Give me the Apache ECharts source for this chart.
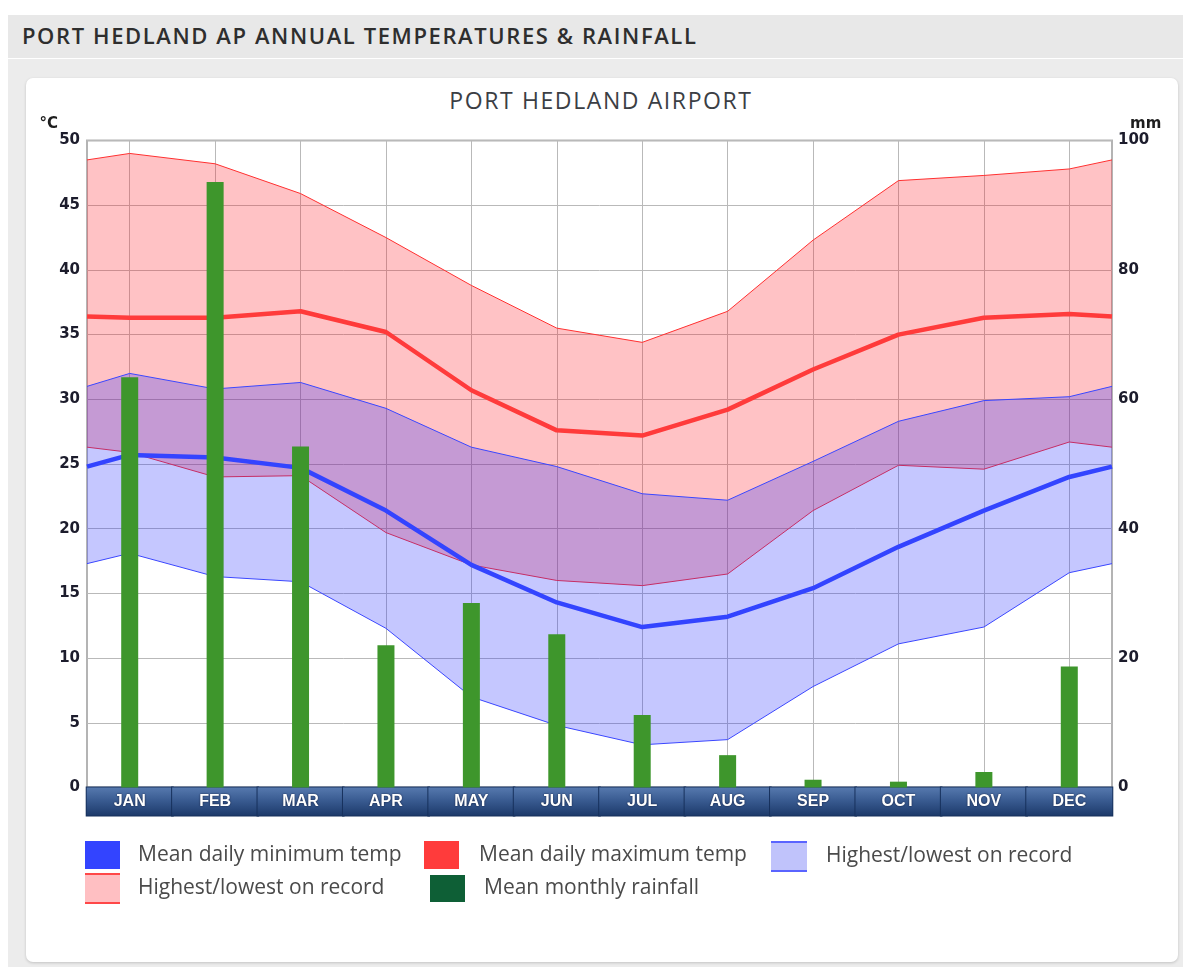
<!DOCTYPE html>
<html>
<head>
<meta charset="utf-8">
<script src="https://cdn.jsdelivr.net/npm/echarts@6/dist/echarts.min.js"></script>
<style>
html,body{margin:0;padding:0;width:1183px;height:967px;background:#fff;overflow:hidden;}
#hdr{position:absolute;left:8px;top:15px;width:1175px;height:43px;background:#e8e8e8;}
#hdr span{position:absolute;left:14px;top:5px;font:600 22px 'Open Sans',sans-serif;letter-spacing:1.6px;color:#2e2e2e;white-space:nowrap;}
#wrap{position:absolute;left:8px;top:59px;width:1175px;height:908px;background:#ececec;}
#card{position:absolute;left:18px;top:19px;width:1152px;height:884px;background:#fff;border-radius:7px;box-shadow:0 1px 3px rgba(0,0,0,0.18);}
#ttl{position:absolute;left:0;top:84px;width:1202px;text-align:center;font:500 23px 'Open Sans',sans-serif;letter-spacing:1.6px;color:#3b3e44;white-space:nowrap;}
#chart{position:absolute;left:0;top:0;width:1183px;height:967px;}
</style>
</head>
<body>
<div id="hdr"><span>PORT HEDLAND AP ANNUAL TEMPERATURES &amp; RAINFALL</span></div>
<div id="wrap"><div id="card"></div></div>
<div id="ttl">PORT HEDLAND AIRPORT</div>
<div id="chart"></div>
<script>
// ---- data ----
const months = ['JAN','FEB','MAR','APR','MAY','JUN','JUL','AUG','SEP','OCT','NOV','DEC'];
const meanMin       = [25.7, 25.5, 24.7, 21.4, 17.2, 14.3, 12.4, 13.2, 15.4, 18.6, 21.4, 24.0];
const meanMax       = [36.3, 36.3, 36.8, 35.2, 30.7, 27.6, 27.2, 29.2, 32.3, 35.0, 36.3, 36.6];
const recHighOfMax  = [49.0, 48.2, 45.9, 42.5, 38.8, 35.5, 34.4, 36.8, 42.3, 46.9, 47.3, 47.8];
const recLowOfMax   = [25.9, 24.0, 24.1, 19.7, 17.2, 16.0, 15.6, 16.5, 21.4, 24.9, 24.6, 26.7];
const recHighOfMin  = [32.0, 30.8, 31.3, 29.3, 26.3, 24.8, 22.7, 22.2, 25.2, 28.3, 29.9, 30.2];
const recLowOfMin   = [18.1, 16.3, 15.9, 12.3, 7.0, 4.8, 3.3, 3.7, 7.8, 11.1, 12.4, 16.6];
const rainfall      = [63.4, 93.6, 52.7, 22.0, 28.5, 23.7, 11.2, 5.0, 1.2, 0.9, 2.4, 18.7];
// values read at the year-boundary edges of the plot (same at left and right edge)
const edgeMeanMin = 24.8;
const edgeMeanMax = 36.4;
const edgeRecHighOfMax = 48.5;
const edgeRecLowOfMax = 26.3;
const edgeRecHighOfMin = 31.0;
const edgeRecLowOfMin = 17.3;
const tempTicks = [0, 50, 5];   // min, max, step (°C)
const rainTicks = [0, 100, 20]; // min, max, step (mm)

// ---- helpers building what the library needs ----
function pts(edge, vals) {
  const out = [[0.5, edge]];
  vals.forEach((v, i) => out.push([i + 1, v]));
  out.push([12.5, edge]);
  return out;
}

const FONT = "'Open Sans', sans-serif";
const AXFONT = "'DejaVu Sans', sans-serif";
const RED = '#ff3b3b', BLUE = '#3344ff';
const pinkFill = 'rgba(255,20,30,0.26)';
const blueFill = 'rgba(30,40,255,0.26)';
const gridCol = '#b9b9b9';

const maxHi = pts(edgeRecHighOfMax, recHighOfMax), maxLo = pts(edgeRecLowOfMax, recLowOfMax);
const minHi = pts(edgeRecHighOfMin, recHighOfMin), minLo = pts(edgeRecLowOfMin, recLowOfMin);

function bandSeries(name, hi, lo, fill, z) {
  return {
    name: name, type: 'custom', xAxisIndex: 1, yAxisIndex: 0, z: z,
    data: [hi[6]], encode: {x: 0, y: 1}, silent: true,
    renderItem: function (params, api) {
      const top = hi.map(p => api.coord(p));
      const bot = lo.map(p => api.coord(p)).reverse();
      return {type: 'polygon', shape: {points: top.concat(bot)}, style: {fill: fill, stroke: null}};
    }
  };
}
function thinLine(name, data, color, z) {
  return {name: name, type: 'line', xAxisIndex: 1, yAxisIndex: 0, data: data,
    showSymbol: false, symbol: 'none', lineStyle: {color: color, width: 1}, itemStyle: {color: color}, z: z};
}

function bandIcon(line, fill) {
  return {
    type: 'linear', x: 0, y: 0, x2: 0, y2: 1,
    colorStops: [
      {offset: 0, color: line}, {offset: 0.07, color: line},
      {offset: 0.07, color: fill}, {offset: 0.93, color: fill},
      {offset: 0.93, color: line}, {offset: 1, color: line}
    ]
  };
}
const legendTxt = {fontFamily: FONT, fontSize: 21, color: '#4a4a4a', padding: [0, 0, 0, 13]};
function txt(extra) { return Object.assign({}, legendTxt, extra); }

const chart = echarts.init(document.getElementById('chart'));
chart.setOption({
  backgroundColor: 'transparent',
  animation: false,
  grid: {
    left: 87, right: 71, top: 140.5, bottom: 179.5,
    show: true, borderColor: '#b4b4b4', borderWidth: 2, backgroundColor: 'transparent'
  },
  legend: [
    {left: 85, top: 841, padding: 0, itemWidth: 35, itemHeight: 28, textStyle: txt({}),
     data: [{name: 'Mean daily minimum temp', icon: 'rect', itemStyle: {color: BLUE, borderWidth: 0}}]},
    {left: 424, top: 841, padding: 0, itemWidth: 35, itemHeight: 28, textStyle: txt({padding: [0, 0, 0, 15]}),
     data: [{name: 'Mean daily maximum temp', icon: 'rect', itemStyle: {color: RED, borderWidth: 0}}]},
    {left: 771, top: 841, padding: 0, itemWidth: 36, itemHeight: 31, textStyle: txt({padding: [0, 0, 0, 14]}),
     formatter: 'Highest/lowest on record',
     data: [{name: 'Highest/lowest on record (min)', icon: 'rect', itemStyle: {color: bandIcon('#5a64ff', '#c0c3fb'), borderWidth: 0}}]},
    {left: 85, top: 873, padding: 0, itemWidth: 35, itemHeight: 31, textStyle: txt({padding: [0, 0, 5, 13]}),
     formatter: 'Highest/lowest on record',
     data: [{name: 'Highest/lowest on record (max)', icon: 'rect', itemStyle: {color: bandIcon('#ff4848', '#ffbfc2'), borderWidth: 0}}]},
    {left: 430, top: 875, padding: 0, itemWidth: 35, itemHeight: 27, textStyle: txt({padding: [0, 0, 5, 14]}),
     data: [{name: 'Mean monthly rainfall', icon: 'rect', itemStyle: {color: '#0e5f36', borderWidth: 0}}]}
  ],
  xAxis: [
    {
      type: 'category', data: months, boundaryGap: true,
      axisLine: {show: false}, axisTick: {show: false},
      splitLine: {show: true, alignWithLabel: true, lineStyle: {color: gridCol, width: 1}},
      axisLabel: {
        interval: 0, margin: 0, width: 86, height: 28, lineHeight: 28, align: 'center',
        color: '#fff', fontFamily: "'Liberation Sans Narrow', 'Liberation Sans', sans-serif",
        fontWeight: 'bold', fontSize: 16,
        textShadowColor: 'rgba(0,0,20,0.7)', textShadowBlur: 2,
        borderColor: '#16305c', borderWidth: 1,
        backgroundColor: {
          type: 'linear', x: 0, y: 0, x2: 0, y2: 1,
          colorStops: [{offset: 0, color: '#587bb0'}, {offset: 0.45, color: '#3a5c92'}, {offset: 1, color: '#1b3868'}]
        }
      }
    },
    {
      type: 'value', min: 0.5, max: 12.5, show: false,
      splitLine: {show: false}
    }
  ],
  yAxis: [
    {
      type: 'value', min: tempTicks[0], max: tempTicks[1], interval: tempTicks[2],
      name: '°C', nameLocation: 'end', nameGap: 9,
      nameTextStyle: {align: 'right', padding: [0, 29, 0, 0], fontFamily: AXFONT, fontWeight: 'bold', fontSize: 15, color: '#1e1e1e'},
      axisLine: {show: false}, axisTick: {show: false},
      axisLabel: {margin: 7, padding: [5, 0, 0, 0], fontFamily: AXFONT, fontWeight: 'bold', fontSize: 15, color: '#1c1c2c'},
      splitLine: {show: true, lineStyle: {color: gridCol, width: 1}}
    },
    {
      type: 'value', min: rainTicks[0], max: rainTicks[1], interval: rainTicks[2], position: 'right',
      name: 'mm', nameLocation: 'end', nameGap: 9,
      nameTextStyle: {align: 'left', padding: [0, 0, 0, 18], fontFamily: AXFONT, fontWeight: 'bold', fontSize: 15, color: '#1e1e1e'},
      axisLine: {show: false}, axisTick: {show: false},
      axisLabel: {margin: 6, padding: [5, 0, 0, 0], fontFamily: AXFONT, fontWeight: 'bold', fontSize: 15, color: '#1c1c2c'},
      splitLine: {show: false}
    }
  ],
  series: [
    // red band: record high / low of daily maximum
    bandSeries('Highest/lowest on record (max)', maxHi, maxLo, pinkFill, 1),
    thinLine('Highest/lowest on record (max)', maxHi, '#ff3030', 2),
    thinLine('Highest/lowest on record (max)', maxLo, '#ff3030', 2),
    // blue band: record high / low of daily minimum
    bandSeries('Highest/lowest on record (min)', minHi, minLo, blueFill, 3),
    thinLine('Highest/lowest on record (min)', minHi, '#3a46ff', 4),
    thinLine('Highest/lowest on record (min)', minLo, '#3a46ff', 4),
    {name: 'Mean daily maximum temp', type: 'line', xAxisIndex: 1, yAxisIndex: 0,
     data: pts(edgeMeanMax, meanMax), showSymbol: false, symbol: 'none',
     lineStyle: {color: RED, width: 4.5}, itemStyle: {color: RED}, z: 5},
    {name: 'Mean daily minimum temp', type: 'line', xAxisIndex: 1, yAxisIndex: 0,
     data: pts(edgeMeanMin, meanMin), showSymbol: false, symbol: 'none',
     lineStyle: {color: BLUE, width: 4.5}, itemStyle: {color: BLUE}, z: 5},
    {name: 'Mean monthly rainfall', type: 'bar', xAxisIndex: 0, yAxisIndex: 1,
     data: rainfall, barWidth: 17, itemStyle: {color: '#3e962c'}, z: 6}
  ]
});
</script>
</body>
</html>
